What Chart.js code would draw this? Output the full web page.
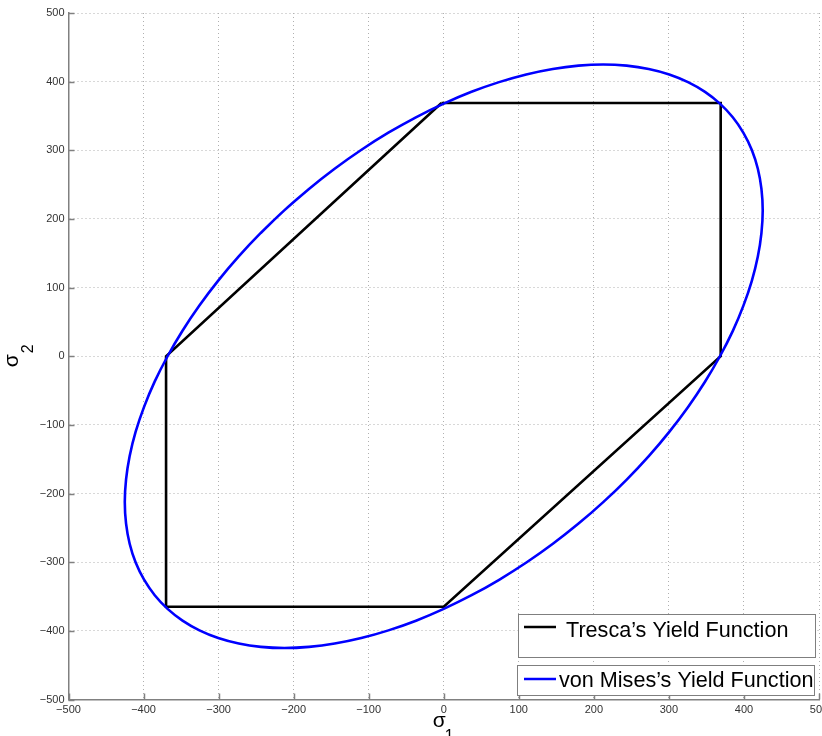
<!DOCTYPE html>
<html>
<head>
<meta charset="utf-8">
<script src="https://cdn.jsdelivr.net/npm/chart.js@4.4.1/dist/chart.umd.min.js"></script>
<style>
html,body{margin:0;padding:0;background:#fff;}
#wrap{width:822px;height:736px;}
</style>
</head>
<body>
<div id="wrap"><canvas id="c" width="822" height="736"></canvas></div>
<script>
// ---- data ----
const seriesLabels = ["Tresca\u2019s Yield Function", "von Mises\u2019s Yield Function"];
const trescaX = [-3, 369, 369, 0, -370, -370, -3];
const trescaY = [369, 369, 0, -365, -365, 0, 369];
// von Mises ellipse, traced once around (first and last points overlap so the loop closes smoothly)
const misesX = [-243.8, -212.5, -179.6, -145.4, -110.1, -73.8, -37.1, 0, 37.0, 73.7, 109.9, 145.3, 179.5, 212.4, 243.7, 273.1, 300.5, 325.5, 348.1, 368, 385.1, 399.3, 410.5, 418.5, 423.3, 425.0, 423.3, 418.5, 410.5, 399.3, 385.2, 368, 348.1, 325.6, 300.5, 273.2, 243.8, 212.5, 179.6, 145.4, 110.1, 73.8, 37.1, 0, -37.0, -73.7, -109.9, -145.3, -179.5, -212.4, -243.7, -273.1, -300.5, -325.5, -348.1, -368, -385.1, -399.3, -410.5, -418.5, -423.3, -425.0, -423.3, -418.5, -410.5, -399.3, -385.2, -368, -348.1, -325.6, -300.5, -273.2, -243.8, -212.5, -179.6];
const misesY = [179.6, 212.5, 243.8, 273.2, 300.5, 325.6, 348.1, 368, 385.2, 399.3, 410.5, 418.5, 423.3, 425.0, 423.3, 418.5, 410.5, 399.3, 385.1, 368, 348.1, 325.5, 300.5, 273.1, 243.7, 212.4, 179.5, 145.3, 109.9, 73.7, 37.0, 0, -37.1, -73.8, -110.1, -145.4, -179.6, -212.5, -243.8, -273.2, -300.5, -325.6, -348.1, -368, -385.2, -399.3, -410.5, -418.5, -423.3, -425.0, -423.3, -418.5, -410.5, -399.3, -385.1, -368, -348.1, -325.5, -300.5, -273.1, -243.7, -212.4, -179.5, -145.3, -109.9, -73.7, -37.0, 0, 37.1, 73.8, 110.1, 145.4, 179.6, 212.5, 243.8];
const xTickValues = [-500, -400, -300, -200, -100, 0, 100, 200, 300, 400, 500];
const yTickValues = [-500, -400, -300, -200, -100, 0, 100, 200, 300, 400, 500];
const xTitle = ["\u03c3", "1"];
const yTitle = ["\u03c3", "2"];

const toPts = (xs, ys) => xs.map((x, i) => ({x: x, y: ys[i]}));
const fmt = v => (v < 0 ? "\u2212" + Math.abs(v) : String(v));

const FONT = "'Liberation Sans', Arial, Helvetica, sans-serif";

const decor = {
  id: 'decor',
  afterDraw(chart) {
    const ctx = chart.ctx;
    const xs = chart.scales.x, ys = chart.scales.y;
    const a = chart.chartArea;
    ctx.save();
    // inward tick marks
    ctx.strokeStyle = '#808080';
    ctx.lineWidth = 1.5;
    xTickValues.forEach(v => {
      const px = Math.round(xs.getPixelForValue(v)) + 0.5;
      ctx.beginPath(); ctx.moveTo(px, a.bottom); ctx.lineTo(px, a.bottom - 6); ctx.stroke();
    });
    yTickValues.forEach(v => {
      const py = Math.round(ys.getPixelForValue(v)) + 0.5;
      ctx.beginPath(); ctx.moveTo(a.left, py); ctx.lineTo(a.left + 6, py); ctx.stroke();
    });
    // axis titles
    ctx.fillStyle = '#000';
    ctx.textAlign = 'left';
    ctx.textBaseline = 'alphabetic';
    const cx = xs.getPixelForValue(0);
    ctx.font = '21px ' + FONT;
    ctx.fillText(xTitle[0], cx - 11, 727);
    ctx.font = '16px ' + FONT;
    ctx.fillText(xTitle[1], cx + 1, 741);
    const cy = ys.getPixelForValue(0);
    ctx.save();
    ctx.translate(18, cy + 11);
    ctx.rotate(-Math.PI / 2);
    ctx.font = '21px ' + FONT;
    ctx.fillText(yTitle[0], 0, 0);
    ctx.font = '16px ' + FONT;
    ctx.fillText(yTitle[1], 14, 15);
    ctx.restore();
    // legend boxes
    const boxes = [
      {x: 518, y: 614, w: 297, h: 43, ly: 627, tx: 566, ty: 637},
      {x: 517, y: 665, w: 297, h: 30, ly: 679, tx: 559, ty: 687}
    ];
    const dsets = chart.data.datasets;
    boxes.forEach((b, i) => {
      ctx.fillStyle = '#fff';
      ctx.fillRect(b.x, b.y, b.w, b.h);
      ctx.strokeStyle = '#7f7f7f';
      ctx.lineWidth = 1;
      ctx.strokeRect(b.x + 0.5, b.y + 0.5, b.w, b.h);
      ctx.strokeStyle = dsets[i].borderColor;
      ctx.lineWidth = 2.5;
      ctx.beginPath(); ctx.moveTo(524, b.ly); ctx.lineTo(556, b.ly); ctx.stroke();
      ctx.fillStyle = '#000';
      ctx.font = '21.6px ' + FONT;
      ctx.fillText(dsets[i].label, b.tx, b.ty);
    });
    ctx.restore();
  }
};

new Chart(document.getElementById('c'), {
  type: 'scatter',
  data: {
    datasets: [
      {label: seriesLabels[0], data: toPts(trescaX, trescaY), showLine: true, borderColor: '#000000', borderWidth: 2.6, pointRadius: 0, tension: 0, order: 1},
      {label: seriesLabels[1], data: toPts(misesX, misesY), showLine: true, borderColor: '#0000ff', borderWidth: 2.6, pointRadius: 0, tension: 0.4, borderJoinStyle: 'round', order: 0}
    ]
  },
  options: {
    responsive: false,
    devicePixelRatio: 1,
    animation: false,
    layout: {padding: {top: 13, right: 3, left: 0, bottom: 0}},
    plugins: {legend: {display: false}, tooltip: {enabled: false}},
    scales: {
      x: {
        type: 'linear', min: -500, max: 500,
        afterBuildTicks: s => { s.ticks = xTickValues.map(v => ({value: v})); },
        afterFit: s => { s.height = 36.5; s.paddingLeft = 0; s.paddingRight = 0; },
        ticks: {callback: v => fmt(v), color: '#333', font: {family: FONT, size: 11}, padding: 4, maxRotation: 0, autoSkip: false},
        grid: {color: '#b0b0b0', lineWidth: 1, drawTicks: false, tickLength: 0},
        border: {display: true, color: '#808080', width: 1.5, dash: [1, 3]}
      },
      y: {
        type: 'linear', min: -500, max: 500,
        afterBuildTicks: s => { s.ticks = yTickValues.map(v => ({value: v})); },
        afterFit: s => { s.width = 68.5; s.paddingTop = 0; s.paddingBottom = 0; },
        ticks: {callback: v => fmt(v), color: '#333', font: {family: FONT, size: 11}, padding: 4, autoSkip: false},
        grid: {color: '#b0b0b0', lineWidth: 1, drawTicks: false, tickLength: 0},
        border: {display: true, color: '#808080', width: 1.5, dash: [1, 3]}
      }
    }
  },
  plugins: [decor]
});
</script>
</body>
</html>
